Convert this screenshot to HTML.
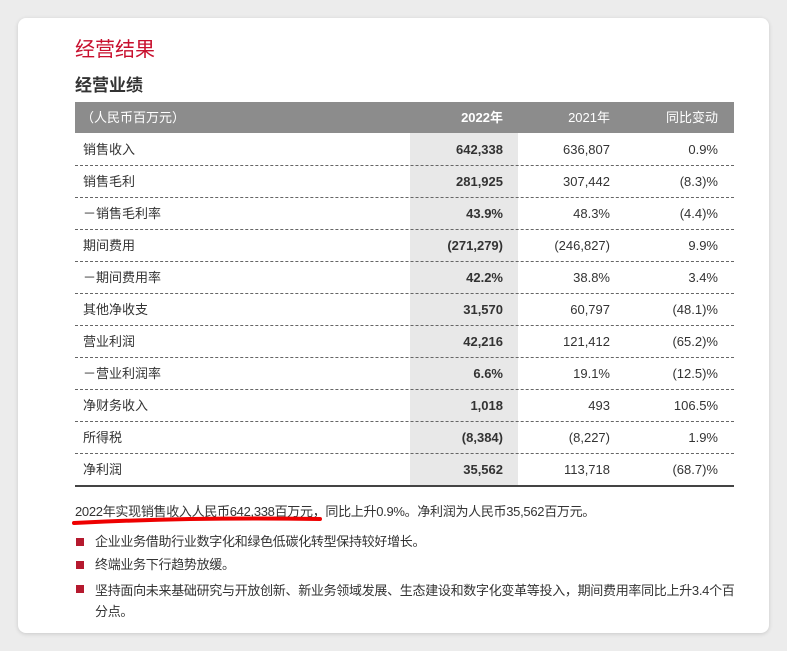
<!DOCTYPE html>
<html><head><meta charset="utf-8"><style>
body{margin:0;width:787px;height:651px;background:#ececec;font-family:"Liberation Sans","Noto Sans CJK SC",sans-serif;position:relative;overflow:hidden}
.card{position:absolute;left:18px;top:18px;width:751px;height:615px;background:#fff;border-radius:8px;box-shadow:0 1px 4px rgba(0,0,0,.15)}
.abs{position:absolute}
.h1{left:75px;top:33px;font-size:20px;color:#c8102e}
.h2{left:75px;top:71px;font-size:17px;font-weight:bold;color:#333}
.hdr{left:75px;top:102px;width:659px;height:31px;background:#8c8c8c;color:#fff;font-size:13px}
.hdr span{top:0;line-height:31px}
.hl{left:410px;top:133px;width:108px;height:353px;background:#e8e8e8}
.row{left:75px;width:659px;height:32px;font-size:13px;color:#333;border-bottom:1px dashed #666;box-sizing:border-box}
.row span{position:absolute;top:0;line-height:31px}
.c0{left:8px}.c1{right:231px;font-weight:bold}.c2{right:124px}.c3{right:16px}
.txt{font-size:13px;color:#333;line-height:18px;letter-spacing:-0.3px}
.bul{width:8px;height:8px;background:#b5192e;left:76px}
</style></head><body>
<div class="card"></div>
<div class="abs h1">经营结果</div>
<div class="abs h2">经营业绩</div>
<div class="abs hl"></div>
<div class="abs hdr">
<span class="abs" style="left:6px">（人民币百万元）</span>
<span class="abs" style="right:231px;font-weight:bold">2022年</span>
<span class="abs" style="right:124px">2021年</span>
<span class="abs" style="right:16px">同比变动</span>
</div>
<div id="rows"></div>
<div class="abs" style="left:75px;top:485px;width:659px;height:2px;background:#444"></div>
<div class="abs txt" style="left:75px;top:503px">2022年实现销售收入人民币642,338百万元，同比上升0.9%。净利润为人民币35,562百万元。</div>
<svg class="abs" style="left:70px;top:514px" width="260" height="14"><path d="M4 9 Q120 3 250 5" stroke="#e00" stroke-width="4" fill="none" stroke-linecap="round"/></svg>
<div class="abs bul" style="top:538px"></div>
<div class="abs txt" style="left:95px;top:533px">企业业务借助行业数字化和绿色低碳化转型保持较好增长。</div>
<div class="abs bul" style="top:561px"></div>
<div class="abs txt" style="left:95px;top:556px">终端业务下行趋势放缓。</div>
<div class="abs bul" style="top:585px"></div>
<div class="abs txt" style="left:95px;top:580px;width:650px;line-height:21px">坚持面向未来基础研究与开放创新、新业务领域发展、生态建设和数字化变革等投入，期间费用率同比上升3.4个百分点。</div>
<script>
const labels=["销售收入","销售毛利","－销售毛利率","期间费用","－期间费用率","其他净收支","营业利润","－营业利润率","净财务收入","所得税","净利润"];
const v2022=["642,338","281,925","43.9%","(271,279)","42.2%","31,570","42,216","6.6%","1,018","(8,384)","35,562"];
const v2021=["636,807","307,442","48.3%","(246,827)","38.8%","60,797","121,412","19.1%","493","(8,227)","113,718"];
const chg=["0.9%","(8.3)%","(4.4)%","9.9%","3.4%","(48.1)%","(65.2)%","(12.5)%","106.5%","1.9%","(68.7)%"];
const rows=document.getElementById('rows');
labels.forEach((l,i)=>{
const r=document.createElement('div');
r.className='abs row';
r.style.top=(134+i*32)+'px';
if(i===labels.length-1)r.style.borderBottom='none';


r.innerHTML='<span class="c0">'+l+'</span><span class="c1">'+v2022[i]+'</span><span class="c2">'+v2021[i]+'</span><span class="c3">'+chg[i]+'</span>';
rows.appendChild(r);
});
</script>
</body></html>
